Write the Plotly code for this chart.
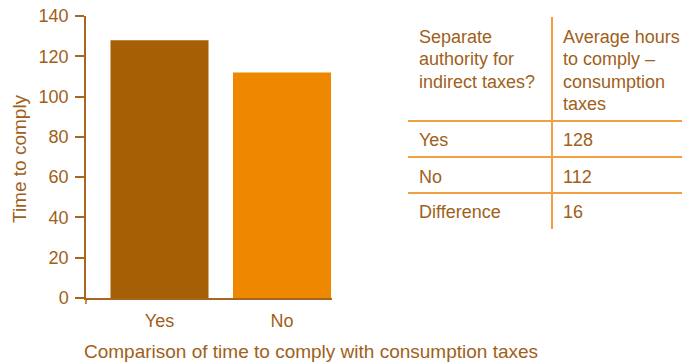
import plotly.graph_objects as go

categories = ["Yes", "No"]
hours = [128, 112]
bar_colors = ["#A65F05", "#EE8800"]

table_header_left = ["Separate", "authority for", "indirect taxes?"]
table_header_right = ["Average hours", "to comply \u2013", "consumption", "taxes"]
table_rows = ["Yes", "No", "Difference"]
table_values = ["128", "112", "16"]

y_ticks = [0, 20, 40, 60, 80, 100, 120, 140]

TXT = "#A0601A"
AX = "#A8671E"
TLINE = "#F0A040"
FONT = "Liberation Sans, Arial, sans-serif"
FS = 18
FT = 19
FTAB = 18

OFF = 8  # page body margin
W, H = 690 - OFF, 364 - OFF
# plot area in screen pixels
L, R, T, B = 86, 332, 16, 298


def px(xp):
    return (xp - L) / (R - L)


def py(yp):
    return (B - yp) / (B - T)


fig = go.Figure()
fig.add_trace(go.Bar(x=categories, y=hours, marker=dict(color=bar_colors, line=dict(width=0)),
                     width=0.8, showlegend=False, hoverinfo="x+y"))

fig.update_layout(
    width=W, height=H,
    margin=dict(l=L - OFF, r=W - (R - OFF), t=T - OFF, b=H - (B - OFF), autoexpand=False),
    paper_bgcolor="white", plot_bgcolor="white",
    font=dict(family=FONT, size=FS, color=TXT),
    xaxis=dict(range=[-0.6, 1.408], showline=True, linecolor=AX, linewidth=1.5,
               ticks="", showgrid=False, zeroline=False, automargin=False,
               tickfont=dict(size=FS, color=TXT), ticklabelstandoff=6),
    yaxis=dict(range=[0, 140.001], tickvals=y_ticks, showline=True, linecolor=AX, linewidth=1.5,
               ticks="outside", ticklen=9, tickcolor=AX, tickwidth=1.5, automargin=False,
               showgrid=False, zeroline=False, tickfont=dict(size=FS, color=TXT),
               ticklabelstandoff=3, ticklabeloverflow="allow"),
)

ann = []
ann.append(dict(x=px(19), y=py(159), xref="paper", yref="paper", text="Time to comply",
                textangle=-90, showarrow=False, xanchor="center", yanchor="middle",
                font=dict(size=FT, color=TXT)))
ann.append(dict(x=px(82), y=py(351), xref="paper", yref="paper",
                text="Comparison of time to comply with consumption taxes",
                showarrow=False, xanchor="left", yanchor="middle",
                font=dict(size=FT, color=TXT)))

line_h = 22.4
for i, t in enumerate(table_header_left):
    ann.append(dict(x=px(417), y=py(37 + i * line_h), xref="paper", yref="paper", text=t,
                    showarrow=False, xanchor="left", yanchor="middle",
                    font=dict(size=FTAB, color=TXT)))
for i, t in enumerate(table_header_right):
    ann.append(dict(x=px(561), y=py(37 + i * line_h), xref="paper", yref="paper", text=t,
                    showarrow=False, xanchor="left", yanchor="middle",
                    font=dict(size=FTAB, color=TXT)))
row_y = [140, 177, 212]
for lab, val, yy in zip(table_rows, table_values, row_y):
    ann.append(dict(x=px(417), y=py(yy), xref="paper", yref="paper", text=lab,
                    showarrow=False, xanchor="left", yanchor="middle",
                    font=dict(size=FTAB, color=TXT)))
    ann.append(dict(x=px(561), y=py(yy), xref="paper", yref="paper", text=val,
                    showarrow=False, xanchor="left", yanchor="middle",
                    font=dict(size=FTAB, color=TXT)))
fig.update_layout(annotations=ann)

shapes = []
shapes.append(dict(type="line", xref="paper", yref="paper", x0=0, x1=0, y0=py(298), y1=py(304),
                   line=dict(color=AX, width=1.5)))
shapes.append(dict(type="line", xref="paper", yref="paper", x0=px(552), x1=px(552),
                   y0=py(17), y1=py(229), line=dict(color=TLINE, width=2)))
for yy in [121, 157, 193]:
    shapes.append(dict(type="line", xref="paper", yref="paper", x0=px(408), x1=px(690),
                       y0=py(yy), y1=py(yy), line=dict(color=TLINE, width=2)))
fig.update_layout(shapes=shapes)

fig.write_html("out.html")
